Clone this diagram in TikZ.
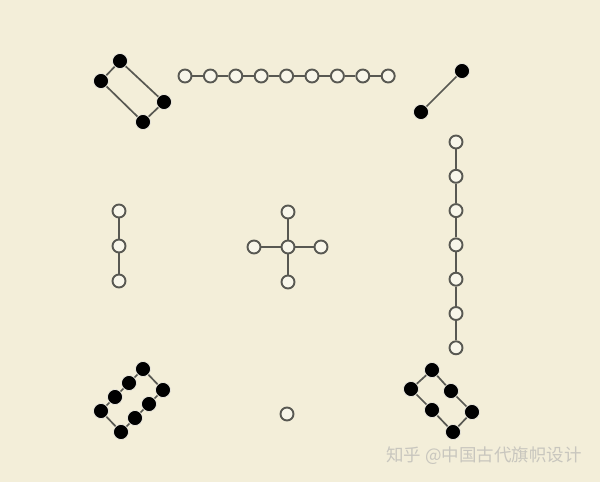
\documentclass[tikz,border=0pt]{standalone}
\usepackage{fontspec}
\newfontfamily\cjk{Noto Sans CJK SC}
\definecolor{paper}{RGB}{243,238,217}
\definecolor{stroke}{RGB}{88,88,82}
\definecolor{markgray}{RGB}{200,198,190}
\tikzset{
  yang/.style={circle,draw=stroke,line width=1.9pt,fill=white!45!paper,minimum size=13pt,inner sep=0pt},
  yin/.style={circle,fill=black,draw=white!60!paper,line width=0.6pt,minimum size=15pt,inner sep=0pt},
  link/.style={draw=stroke,line width=1.7pt}
}
\begin{document}
\begin{tikzpicture}[x=1pt,y=-1pt]
\fill[paper] (0,0) rectangle (600,482);
\useasboundingbox (0,0) rectangle (600,482);

% top row, nine
\foreach \i in {1,...,9}
  \node[yang] (top\i) at ({159.6+25.4*\i},76) {};
\foreach \i [evaluate=\i as \j using int(\i+1)] in {1,...,8}
  \draw[link] (top\i) -- (top\j);

% right column, seven
\foreach \i in {1,...,7}
  \node[yang] (east\i) at (456,{107.7+34.3*\i}) {};
\foreach \i [evaluate=\i as \j using int(\i+1)] in {1,...,6}
  \draw[link] (east\i) -- (east\j);

% left column, three
\node[yang] (west1) at (119,211) {};
\node[yang] (west2) at (119,246) {};
\node[yang] (west3) at (119,281) {};
\draw[link] (west1) -- (west2);
\draw[link] (west2) -- (west3);

% centre, five
\node[yang] (mid) at (288,247) {};
\node[yang] (midN) at (288,212) {};
\node[yang] (midS) at (288,282) {};
\node[yang] (midW) at (254,247) {};
\node[yang] (midE) at (321,247) {};
\draw[link] (mid) -- (midN);
\draw[link] (mid) -- (midS);
\draw[link] (mid) -- (midW);
\draw[link] (mid) -- (midE);

% bottom, one
\node[yang] (one) at (287,414) {};

% top left, four
\node[yin] (nw1) at (120,61) {};
\node[yin] (nw2) at (101,81) {};
\node[yin] (nw3) at (143,122) {};
\node[yin] (nw4) at (164,102) {};
\draw[link] (nw1) -- (nw2);
\draw[link] (nw2) -- (nw3);
\draw[link] (nw3) -- (nw4);
\draw[link] (nw4) -- (nw1);

% top right, two
\node[yin] (ne1) at (462,71) {};
\node[yin] (ne2) at (421,112) {};
\draw[link] (ne1) -- (ne2);

% bottom left, eight
\node[yin] (sw1) at (143,369) {};
\node[yin] (sw2) at (129,383) {};
\node[yin] (sw3) at (115,397) {};
\node[yin] (sw4) at (101,411) {};
\node[yin] (sw5) at (121,432) {};
\node[yin] (sw6) at (135,418) {};
\node[yin] (sw7) at (149,404) {};
\node[yin] (sw8) at (163,390) {};
\draw[link] (sw1) -- (sw2);
\draw[link] (sw2) -- (sw3);
\draw[link] (sw3) -- (sw4);
\draw[link] (sw4) -- (sw5);
\draw[link] (sw5) -- (sw6);
\draw[link] (sw6) -- (sw7);
\draw[link] (sw7) -- (sw8);
\draw[link] (sw8) -- (sw1);

% bottom right, six
\node[yin] (se1) at (432,370) {};
\node[yin] (se2) at (411,389) {};
\node[yin] (se3) at (432,410) {};
\node[yin] (se4) at (453,432) {};
\node[yin] (se5) at (472,412) {};
\node[yin] (se6) at (451,391) {};
\draw[link] (se1) -- (se2);
\draw[link] (se2) -- (se3);
\draw[link] (se3) -- (se4);
\draw[link] (se4) -- (se5);
\draw[link] (se5) -- (se6);
\draw[link] (se6) -- (se1);

\node[text=markgray,font=\cjk\fontsize{17.5}{17.5}\selectfont,inner sep=0pt] (mark) at (484,456) {知乎 @中国古代旗帜设计};
\end{tikzpicture}
\end{document}
